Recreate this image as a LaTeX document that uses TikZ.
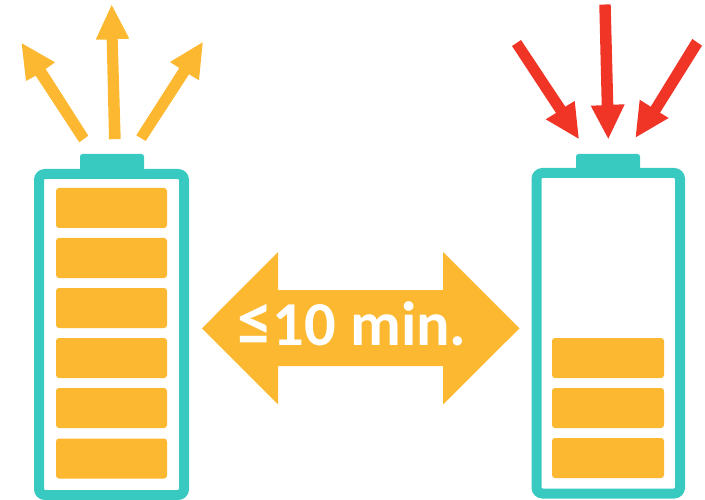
\documentclass[tikz,border=0pt]{standalone}
\usepackage{fontspec}
\setmainfont{Carlito}
\definecolor{teal1}{HTML}{38CAC1}
\definecolor{amber}{HTML}{FCB830}
\definecolor{redd}{HTML}{F03527}
\tikzset{
  shell/.style={draw=teal1,line width=10pt,rounded corners=6pt,fill=white},
  capbox/.style={fill=teal1,rounded corners=2.5pt},
  bar/.style={fill=amber,rounded corners=3pt},
  amberarrow/.style={fill=amber},
  redarrow/.style={fill=redd},
}
\begin{document}
\begin{tikzpicture}[x=1pt,y=-1pt]
\useasboundingbox (0,0) rectangle (705,500);
% left battery
\fill[capbox] (80,154) rectangle (144,176);
\draw[shell] (39,174) rectangle (184,495);
\foreach \t in {188,238,288,338,388,438.5}
  \fill[bar] (56,\t) rectangle (167,\t+40);
% right battery
\fill[capbox] (576,154) rectangle (640,176);
\draw[shell] (536.5,173) rectangle (680,493.5);
\foreach \t in {338,388,438}
  \fill[bar] (552,\t) rectangle (664,\t+40);
% amber arrows
\fill[amberarrow] (88.3,135.7) -- (79.3,142.3) -- (35.7,75.7) -- (26,81) -- (21.7,43.3) -- (55,62.3) -- (45.7,69) -- cycle;
\fill[amberarrow] (109,139.3) -- (120.7,139) -- (117.7,39) -- (129.3,38.7) -- (111.7,5) -- (95.7,39.7) -- (106.7,39.7) -- cycle;
\fill[amberarrow] (136.3,135.3) -- (145.7,141) -- (189,74.3) -- (199,80.3) -- (202.7,42.3) -- (170,62) -- (179.3,68) -- cycle;
% red arrows
\fill[redarrow] (512,46) -- (521,40) -- (565.3,106.7) -- (574.7,101) -- (578.7,138.7) -- (545.7,119.3) -- (556,113) -- cycle;
\fill[redarrow] (599.3,4.7) -- (610.7,4.3) -- (613.3,104.7) -- (624.7,104.3) -- (608.3,138.7) -- (590.7,105.7) -- (601.7,105.3) -- cycle;
\fill[redarrow] (692.3,39) -- (702,45.7) -- (660,112.7) -- (668.7,118) -- (635.7,137.3) -- (639.7,99.7) -- (650.7,106.7) -- cycle;
% double arrow
\fill[amberarrow] (202,328.3) -- (278,252) -- (278,290) -- (443,290) -- (443,252) -- (519.5,328.3) -- (443,404.5) -- (443,366) -- (278,366) -- (278,404.5) -- cycle;
\node[text=white,font=\bfseries\fontsize{62.5}{62.5}\selectfont,inner sep=0pt,anchor=base] (lbl) at (352,345) {{\fontsize{71}{71}\selectfont ≤}10 min.};
\end{tikzpicture}
\end{document}
